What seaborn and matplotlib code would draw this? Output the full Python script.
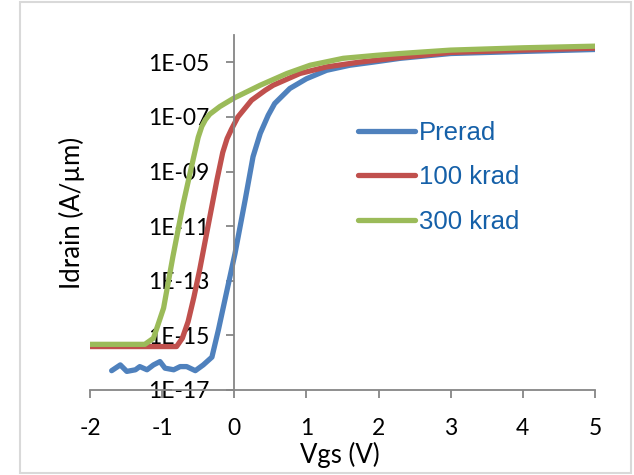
import numpy as np
import pandas as pd
import matplotlib
matplotlib.use("Agg")
import matplotlib.pyplot as plt
import seaborn as sns
from matplotlib.lines import Line2D
from matplotlib.patches import Rectangle
from matplotlib.ticker import FixedLocator, FixedFormatter, NullLocator

# ---------------- data ----------------
series_names = ["Prerad", "100 krad", "300 krad"]
series_colors = ["#4F81BD", "#C0504D", "#9BBB59"]

prerad_vgs = [-1.70, -1.58, -1.49, -1.37, -1.31, -1.21, -1.12, -1.03, -0.96, -0.84,
              -0.75, -0.66, -0.54, -0.43, -0.31, -0.22, -0.08, 0.01, 0.15, 0.26,
              0.36, 0.47, 0.56, 0.77, 1.00, 1.28, 1.60, 1.93, 2.30, 3.0, 4.0, 5.0]
prerad_id = [5.1e-17, 8.3e-17, 4.8e-17, 5.5e-17, 7.2e-17, 5.5e-17, 8.3e-17, 1.1e-16, 6.3e-17, 5.5e-17,
             7.2e-17, 7.2e-17, 5.1e-17, 8.3e-17, 1.6e-16, 1.6e-15, 8.1e-14, 1.0e-12, 8.9e-11, 3.5e-9,
             2.5e-8, 1.15e-7, 3.1e-7, 1.1e-6, 2.5e-6, 5.1e-6, 7.8e-6, 1.02e-5, 1.4e-5, 2.1e-5, 2.5e-5, 2.95e-5]

krad100_vgs = [-2.0, -1.5, -1.0, -0.80, -0.72, -0.64, -0.56, -0.48, -0.40, -0.32,
               -0.24, -0.16, -0.10, -0.04, 0.05, 0.24, 0.43, 0.54, 0.91, 1.28,
               1.74, 2.30, 3.0, 4.0, 5.0]
krad100_id = [3.9e-16, 3.9e-16, 3.9e-16, 3.9e-16, 7.9e-16, 3.2e-15, 2.5e-14, 2.5e-13, 3.2e-12, 4.0e-11,
              5.0e-10, 5.0e-9, 1.6e-8, 3.5e-8, 1.0e-7, 4.1e-7, 9.5e-7, 1.45e-6, 3.9e-6, 6.8e-6,
              1.02e-5, 1.5e-5, 2.3e-5, 2.8e-5, 3.3e-5]

krad300_vgs = [-2.0, -1.5, -1.24, -1.12, -0.98, -0.85, -0.71, -0.57, -0.50, -0.45,
               -0.40, -0.34, -0.20, -0.01, 0.36, 0.73, 1.05, 1.51, 1.97, 2.30,
               3.0, 4.0, 5.0]
krad300_id = [4.7e-16, 4.7e-16, 4.7e-16, 7.9e-16, 1.0e-14, 7.9e-13, 6.3e-11, 2.8e-9, 1.8e-8, 4.5e-8,
              7.9e-8, 1.26e-7, 2.4e-7, 4.8e-7, 1.45e-6, 3.9e-6, 7.8e-6, 1.4e-5, 1.8e-5, 2.1e-5,
              2.8e-5, 3.4e-5, 3.9e-5]

x_ticks = [-2, -1, 0, 1, 2, 3, 4, 5]
x_tick_labels = ["-2", "-1", "0", "1", "2", "3", "4", "5"]
y_ticks = [1e-17, 1e-15, 1e-13, 1e-11, 1e-9, 1e-7, 1e-5]
y_tick_labels = ["1E-17", "1E-15", "1E-13", "1E-11", "1E-09", "1E-07", "1E-05"]

x_label = "Vgs (V)"
y_label = "Idrain (A/µm)"

# ---------------- build long table ----------------
frames = []
for name, xs, ys in zip(series_names,
                        [prerad_vgs, krad100_vgs, krad300_vgs],
                        [prerad_id, krad100_id, krad300_id]):
    frames.append(pd.DataFrame({"Vgs": xs, "Idrain": ys, "series": name}))
df = pd.concat(frames, ignore_index=True)

# ---------------- style ----------------
sns.set_theme(style="white")
plt.rcParams["font.family"] = ["Lato", "DejaVu Sans"]

fig = plt.figure(figsize=(6.34, 4.75), dpi=100)
W, H = 634, 475
ax = fig.add_axes([90 / W, 1 - 390 / H, 505 / W, 355 / H])

sns.lineplot(data=df, x="Vgs", y="Idrain", hue="series", hue_order=series_names,
             palette=series_colors, sort=False, estimator=None, legend=False,
             linewidth=3.8, solid_joinstyle="round", solid_capstyle="round", ax=ax)

ax.set_yscale("log")
ax.set_xlim(-2, 5)
ax.set_ylim(1e-17, 1e-4)

axis_col = "#868686"
for s in ["top", "right"]:
    ax.spines[s].set_visible(False)
ax.spines["left"].set_position(("data", 0))
for s in ["left", "bottom"]:
    ax.spines[s].set_color(axis_col)
    ax.spines[s].set_linewidth(1.3)

ax.xaxis.set_major_locator(FixedLocator(x_ticks))
ax.xaxis.set_major_formatter(FixedFormatter(x_tick_labels))
ax.yaxis.set_major_locator(FixedLocator(y_ticks))
ax.yaxis.set_major_formatter(FixedFormatter(y_tick_labels))
ax.yaxis.set_minor_locator(NullLocator())
ax.xaxis.set_minor_locator(NullLocator())

ax.tick_params(axis="both", which="major", direction="out", length=6, width=1.3,
               color=axis_col, labelsize=16.5, labelcolor="black", bottom=True, left=True)
ax.tick_params(axis="y", pad=12)
ax.tick_params(axis="x", pad=14)
ax.grid(False)

ax.set_xlabel(x_label, fontsize=18.5, color="black")
ax.set_ylabel(y_label, fontsize=18.5, color="black")
ax.xaxis.set_label_coords(0.495, -0.145)
ax.yaxis.set_label_coords(-0.010, 0.5)

handles = [Line2D([0], [0], color=c, lw=3.8, solid_capstyle="round") for c in series_colors]
leg = ax.legend(handles, series_names, loc="upper left",
                bbox_to_anchor=(358 / W, 1 - 120.5 / H), bbox_transform=fig.transFigure,
                frameon=False, handlelength=2.2, handletextpad=0.16, labelspacing=0.8,
                borderpad=0, borderaxespad=0,
                prop={"family": ["Liberation Sans", "DejaVu Sans"], "size": 18.5})
for t in leg.get_texts():
    t.set_color("#1560A8")

fig.add_artist(Rectangle((20 / W, 2 / H), 611 / W, 471 / H, transform=fig.transFigure,
                         fill=False, edgecolor="#D9D9D9", linewidth=1.5))

fig.savefig("out.png", dpi=100)
